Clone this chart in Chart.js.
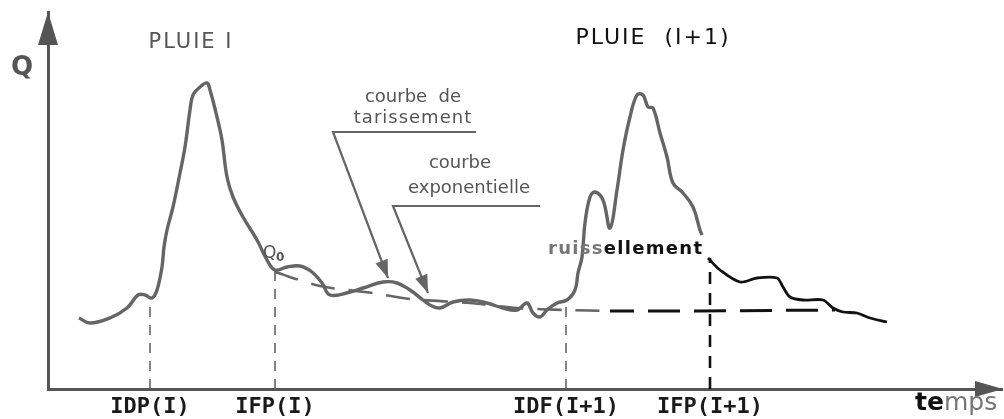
<!DOCTYPE html>
<html><head><meta charset="utf-8">
<script src="https://cdn.jsdelivr.net/npm/chart.js@4/dist/chart.umd.min.js"></script>
<style>html,body{margin:0;padding:0;background:#fff}</style>
</head><body>
<canvas id="c" width="1004" height="419"></canvas>
<script>
// ---- data (time units, discharge units) ----
const mainTime = [3.1,4.2,6.2,7.9,9.0,9.7,10.4,10.9,11.4,11.6,11.9,12.5,13.2,13.7,14.2,14.5,15.2,15.9,16.2,16.9,17.4,17.9,18.5,19.5,20.9,21.9,22.7,23.9,25.2,26.4,27.4,28.2,30.2,31.5,33.5,34.9,36.2,37.5,38.2,39.2,40.5,42.2,43.9,45.5,46.9,47.9,48.5,49.2,49.9,50.9,51.9,52.7,53.0,53.4,53.7,54.2,54.7,55.5,56.2,56.9,57.5,58.2,58.9,59.5,60.0,60.5,61.2,61.9,62.5,63.5,64.5,65.2,65.4];
const mainQ    = [6.6,6.1,6.6,7.6,8.9,8.9,8.6,9.4,11.7,13.7,15.4,17.7,21.1,23.7,27.4,28.9,29.7,30.1,29.4,26.7,24.4,20.7,18.7,16.7,14.4,12.4,11.4,11.7,11.8,11.2,10.1,8.9,9.2,9.6,10.2,10.1,9.4,8.4,7.9,7.6,8.2,8.4,8.1,7.6,7.4,8.1,7.1,6.7,7.4,8.1,8.4,9.4,11.1,12.7,16.1,18.7,19.2,18.4,15.6,19.4,23.4,26.7,28.9,28.9,27.7,27.6,25.1,22.7,20.1,19.1,17.7,15.4,14.9];
const recessTime = [66.0,67.2,69.2,70.9,72.9,73.5,74.2,75.5,77.5,78.5,79.5,80.9,82.2,83.9];
const recessQ    = [12.6,11.4,10.2,10.6,10.6,9.7,8.7,8.4,8.4,7.6,7.2,7.1,6.6,6.2];
const baseTime = [22.7,27.2,32.5,36.2,42.2,46.9,51.9,56.2,65.2,78.7];
const baseQ    = [11.2,9.8,9.1,8.5,8.1,7.6,7.4,7.3,7.3,7.4];
const eventTimes  = [10.2,22.7,51.8,66.2];
const eventQ      = [8.6,11.4,7.9,12.6];
const eventLabels = ['IDP(I)','IFP(I)','IDF(I+1)','IFP(I+1)'];
const leader1Time = [42.8,28.5,34.0];
const leader1Q    = [25.2,25.2,10.6];
const leader2Time = [49.2,34.5,38.0];
const leader2Q    = [17.8,17.8,9.1];
const Q_MIN = -0.5, Q_MAX = 37.2, T_MIN = 0, T_MAX = 95.4;

const GREY = '#656565', BLACK = '#111';
const pts = (xs, ys) => xs.map((v, i) => ({x: v, y: ys[i]}));
const splitAt = 7; // baseline index where the drawing turns black
const datasets = [
  {data: pts(mainTime, mainQ), borderColor: GREY, borderWidth: 3.4, tension: 0.4},
  {data: pts(recessTime, recessQ), borderColor: BLACK, borderWidth: 2.8, tension: 0.3},
  {data: pts(baseTime.slice(0, splitAt + 1), baseQ.slice(0, splitAt + 1)), borderColor: GREY, borderWidth: 2.6, borderDash: [24, 14], tension: 0.3},
  {data: pts(baseTime.slice(splitAt), baseQ.slice(splitAt)), borderColor: BLACK, borderWidth: 3, borderDash: [32, 14], borderDashOffset: 8},
  {data: pts(leader1Time, leader1Q), borderColor: GREY, borderWidth: 2.2, tension: 0},
  {data: pts(leader2Time, leader2Q), borderColor: GREY, borderWidth: 2.2, tension: 0}
];
eventTimes.forEach((t, i) => {
  const last = i === eventTimes.length - 1;
  datasets.push({data: [{x: t, y: Q_MIN}, {x: t, y: eventQ[i]}], borderColor: last ? BLACK : GREY,
    borderWidth: last ? 2.6 : 1.6, borderDash: last ? [12, 9] : [10, 8], tension: 0});
});

const texts = [
  {t: 'Q', x: -2.6, y: 31.6, font: 'bold 26px "DejaVu Sans"', color: '#555', align: 'center'},
  {t: 'PLUIE I', x: 14.3, y: 34.1, font: '21px "DejaVu Sans"', color: '#555', align: 'center', ls: '2px'},
  {t: 'PLUIE  (I+1)', x: 60.5, y: 34.6, font: '22px "DejaVu Sans"', color: '#111', align: 'center', ls: '2px'},
  {t: 'courbe  de', x: 36.5, y: 28.7, font: '18px "DejaVu Sans"', color: '#555', align: 'center'},
  {t: 'tarissement', x: 36.5, y: 26.6, font: '18px "DejaVu Sans"', color: '#555', align: 'center', ls: '1px'},
  {t: 'courbe', x: 41.2, y: 22.1, font: '18px "DejaVu Sans"', color: '#555', align: 'center'},
  {t: 'exponentielle', x: 42.1, y: 19.6, font: '18px "DejaVu Sans"', color: '#555', align: 'center'}
];

const annot = {
  id: 'annot',
  afterDraw(chart) {
    const {ctx, chartArea: a, scales: {x, y}} = chart;
    ctx.save();
    ctx.fillStyle = '#555';
    ctx.beginPath(); ctx.moveTo(a.left, a.top); ctx.lineTo(a.left - 10, a.top + 33); ctx.lineTo(a.left + 10, a.top + 33); ctx.closePath(); ctx.fill();
    ctx.beginPath(); ctx.moveTo(a.right + 1, a.bottom); ctx.lineTo(a.right - 27, a.bottom - 8); ctx.lineTo(a.right - 27, a.bottom + 8); ctx.closePath(); ctx.fill();
    // leader arrowheads
    [[leader1Time, leader1Q], [leader2Time, leader2Q]].forEach(([ts, qs]) => {
      const n = ts.length;
      const x1 = x.getPixelForValue(ts[n - 2]), y1 = y.getPixelForValue(qs[n - 2]);
      const x2 = x.getPixelForValue(ts[n - 1]), y2 = y.getPixelForValue(qs[n - 1]);
      const ang = Math.atan2(y2 - y1, x2 - x1), L = 18, W = 6.5;
      ctx.beginPath();
      ctx.moveTo(x2, y2);
      ctx.lineTo(x2 - L * Math.cos(ang) + W * Math.sin(ang), y2 - L * Math.sin(ang) - W * Math.cos(ang));
      ctx.lineTo(x2 - L * Math.cos(ang) - W * Math.sin(ang), y2 - L * Math.sin(ang) + W * Math.cos(ang));
      ctx.closePath(); ctx.fillStyle = GREY; ctx.fill();
    });
    ctx.textBaseline = 'middle';
    texts.forEach(o => {
      ctx.font = o.font; ctx.fillStyle = o.color; ctx.textAlign = o.align;
      ctx.letterSpacing = o.ls || '0px';
      ctx.fillText(o.t, x.getPixelForValue(o.x), y.getPixelForValue(o.y));
    });
    ctx.letterSpacing = '0px';
    // Q0
    ctx.textAlign = 'left';
    let px = x.getPixelForValue(21.5), py = y.getPixelForValue(13.0);
    ctx.font = '17px "DejaVu Sans"'; ctx.fillStyle = '#555'; ctx.fillText('Q', px, py);
    ctx.font = 'bold 12px "DejaVu Sans"'; ctx.fillText('0', px + 13, py + 4);
    // ruissellement (two tones)
    px = x.getPixelForValue(50.0); py = y.getPixelForValue(13.5);
    ctx.font = 'bold 18px "DejaVu Sans"'; ctx.letterSpacing = '1.3px';
    ctx.fillStyle = '#777'; ctx.fillText('ruiss', px, py);
    const w1 = ctx.measureText('ruiss').width;
    ctx.fillStyle = BLACK; ctx.fillText('ellement', px + w1, py);
    // temps (two tones)
    px = x.getPixelForValue(86.7); py = y.getPixelForValue(-1.9);
    ctx.letterSpacing = '0px';
    ctx.font = 'bold 25px "DejaVu Sans"'; ctx.fillStyle = BLACK; ctx.fillText('te', px, py);
    const w2 = ctx.measureText('te').width;
    ctx.font = '25px "DejaVu Sans"'; ctx.fillStyle = '#777'; ctx.fillText('mps', px + w2, py);
    ctx.restore();
  }
};

new Chart(document.getElementById('c'), {
  type: 'line',
  data: {datasets},
  options: {
    responsive: false, animation: false, parsing: true,
    layout: {padding: {left: 48, right: 2, top: 12, bottom: -6}},
    elements: {point: {radius: 0}, line: {fill: false}},
    plugins: {legend: {display: false}, tooltip: {enabled: false}},
    scales: {
      x: {type: 'linear', min: T_MIN, max: T_MAX,
        grid: {display: false, drawTicks: false},
        border: {display: true, color: '#555', width: 3},
        afterBuildTicks: s => { s.ticks = eventTimes.map(v => ({value: v})); },
        ticks: {autoSkip: false, maxRotation: 0, padding: 7, color: '#1a1a1a',
          font: {family: '"DejaVu Sans Mono"', weight: 'bold', size: 22, lineHeight: 1.0},
          callback: (v, i) => eventLabels[i]}
      },
      y: {type: 'linear', min: Q_MIN, max: Q_MAX,
        grid: {display: false, drawTicks: false},
        border: {display: true, color: '#555', width: 3},
        ticks: {display: false}
      }
    }
  },
  plugins: [annot]
});
</script>
</body></html>
